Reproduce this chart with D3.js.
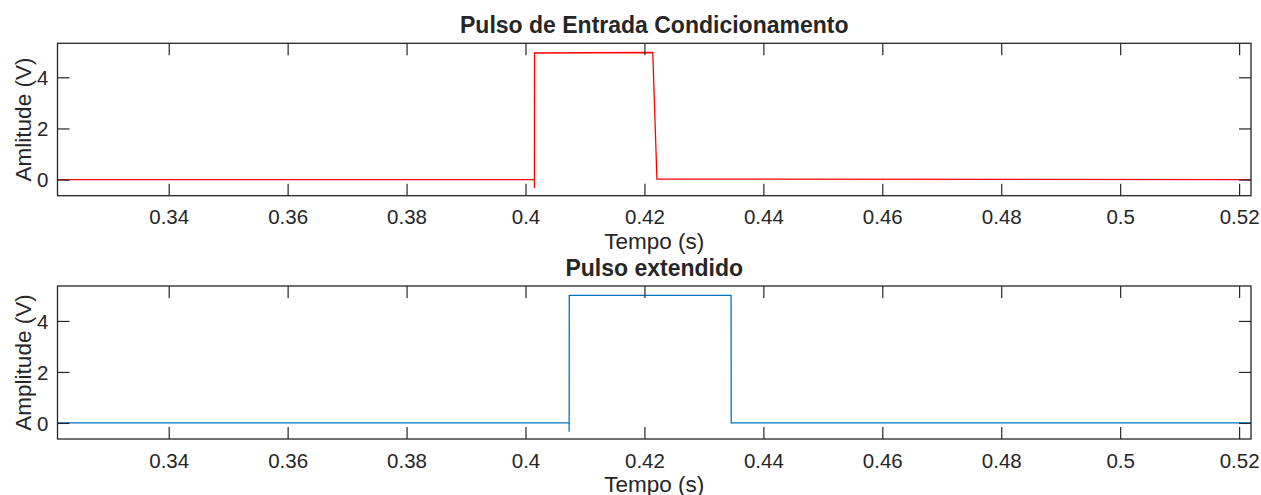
<!DOCTYPE html>
<html>
<head>
<meta charset="utf-8">
<script src="https://cdn.jsdelivr.net/npm/d3@7"></script>
<style>
  html, body { margin: 0; padding: 0; background: #fff; }
  svg { display: block; }
  text { font-family: "Liberation Sans", Arial, Helvetica, sans-serif; fill: #262626; }
</style>
</head>
<body>
<svg id="chart" width="1261" height="495"></svg>
<script>
// Time window shown on both panels (s)
const timeDomain = [0.3213, 0.522];
const timeTicks = [0.34, 0.36, 0.38, 0.40, 0.42, 0.44, 0.46, 0.48, 0.50, 0.52];
const timeTickLabels = ["0.34", "0.36", "0.38", "0.4", "0.42", "0.44", "0.46", "0.48", "0.5", "0.52"];
const ampTicks = [0, 2, 4];
const ampTickLabels = ["0", "2", "4"];

// Conditioned input pulse
const inputTime = [0.3213, 0.4015, 0.4015, 0.40152, 0.4214, 0.4221, 0.522];
const inputAmp  = [0, 0, -0.33, 4.95, 4.97, 0.02, 0];

// Extended pulse
const extTime = [0.3213, 0.40734, 0.40734, 0.40736, 0.43457, 0.43459, 0.522];
const extAmp  = [0, 0, -0.35, 5.0, 5.0, 0, 0];

const panels = [
  { title: "Pulso de Entrada Condicionamento", yLabel: "Amlitude (V)", xLabel: "Tempo (s)",
    time: inputTime, amp: inputAmp, color: "#ff0000", top: 43.3, bottom: 195.7, yDomain: [-0.63, 5.33] },
  { title: "Pulso extendido", yLabel: "Amplitude (V)", xLabel: "Tempo (s)",
    time: extTime, amp: extAmp, color: "#0072bd", top: 286, bottom: 439, yDomain: [-0.63, 5.37] }
];

const svg = d3.select("#chart");
const left = 57.5, right = 1251;
const tickLen = 12;
const axisColor = "#262626";

const x = d3.scaleLinear().domain(timeDomain).range([left, right]);

panels.forEach((p, i) => {
  const y = d3.scaleLinear().domain(p.yDomain).range([p.bottom, p.top]);
  const g = svg.append("g").attr("class", "panel-" + i);

  // clip region for the signal
  const clipId = "clip" + i;
  g.append("clipPath").attr("id", clipId)
    .append("rect").attr("x", left).attr("y", p.top)
    .attr("width", right - left).attr("height", p.bottom - p.top);

  // signal trace
  const pts = p.time.map((t, k) => [t, p.amp[k]]);
  const line = d3.line().x(d => x(d[0])).y(d => y(d[1]));
  g.append("path")
    .datum(pts)
    .attr("clip-path", `url(#${clipId})`)
    .attr("d", line)
    .attr("fill", "none")
    .attr("stroke", p.color)
    .attr("stroke-width", 1.3);

  // axes: bottom/left with labels, top/right mirrored, ticks pointing inward
  const xb = d3.axisBottom(x).tickValues(timeTicks)
    .tickFormat((d, k) => timeTickLabels[k]).tickSizeInner(-tickLen).tickSizeOuter(0).tickPadding(14);
  const xt = d3.axisTop(x).tickValues(timeTicks).tickFormat("").tickSizeInner(-tickLen).tickSizeOuter(0);
  const yl = d3.axisLeft(y).tickValues(ampTicks)
    .tickFormat((d, k) => ampTickLabels[k]).tickSizeInner(-tickLen).tickSizeOuter(0).tickPadding(9);
  const yr = d3.axisRight(y).tickValues(ampTicks).tickFormat("").tickSizeInner(-tickLen).tickSizeOuter(0);

  const gxb = g.append("g").attr("transform", `translate(0,${p.bottom})`).call(xb);
  const gxt = g.append("g").attr("transform", `translate(0,${p.top})`).call(xt);
  const gyl = g.append("g").attr("transform", `translate(${left},0)`).call(yl);
  const gyr = g.append("g").attr("transform", `translate(${right},0)`).call(yr);

  [gxb, gxt, gyl, gyr].forEach(a => {
    a.select(".domain").remove();
    a.selectAll(".tick line").attr("stroke", axisColor).attr("stroke-width", 1.2);
    a.selectAll(".tick text").attr("fill", axisColor).style("font-size", "20.5px");
  });
  gxb.selectAll(".tick text").attr("dy", "0.71em");
  gyl.selectAll(".tick text").attr("dy", "0.36em");

  // axes box
  g.append("rect")
    .attr("x", left).attr("y", p.top)
    .attr("width", right - left).attr("height", p.bottom - p.top)
    .attr("fill", "none").attr("stroke", axisColor).attr("stroke-width", 1.3);

  // title
  g.append("text")
    .attr("x", (left + right) / 2).attr("y", p.top - 10.5)
    .attr("text-anchor", "middle")
    .style("font-size", "23px").style("font-weight", "bold")
    .attr("fill", "#000")
    .text(p.title);

  // x label
  g.append("text")
    .attr("x", (left + right) / 2).attr("y", p.bottom + 53)
    .attr("text-anchor", "middle")
    .style("font-size", "22.5px")
    .text(p.xLabel);

  // y label
  g.append("text")
    .attr("transform", `translate(31,${(p.top + p.bottom) / 2}) rotate(-90)`)
    .attr("text-anchor", "middle")
    .style("font-size", "22.5px")
    .text(p.yLabel);
});
</script>
</body>
</html>
